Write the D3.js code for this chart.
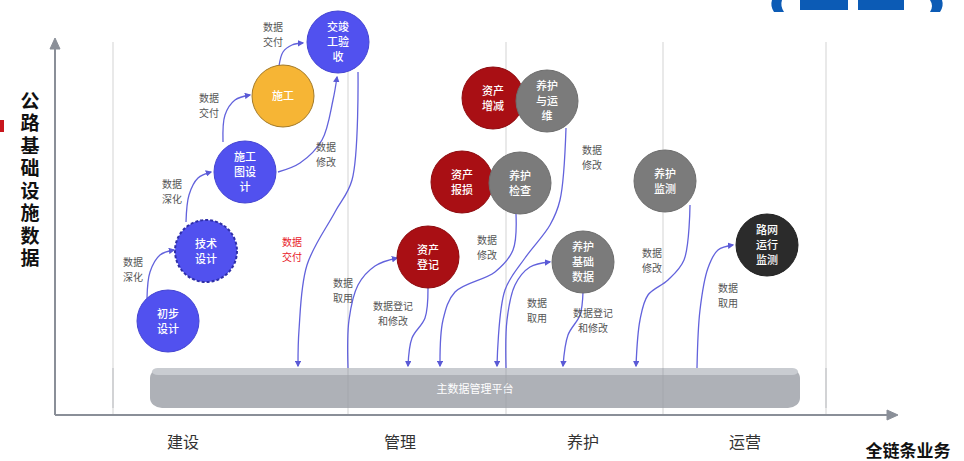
<!DOCTYPE html>
<html><head><meta charset="utf-8">
<script src="https://cdn.jsdelivr.net/npm/d3@7"></script>
<style>body{margin:0;background:#fff}svg{display:block}text{font-family:"Noto Sans CJK SC","Noto Sans",sans-serif}</style>
</head><body>
<svg id="c" width="964" height="461"></svg>
<script>
// ---- data (abstract units: x = business stage position, y = data level) ----
const stages = ["建设", "管理", "养护", "运营"];
const stagePos = [128, 345, 528, 690];
const dividers = [58, 293, 451, 608, 771];
const yTitle = "公路基础设施数据";
const xTitle = "全链条业务";
const platformName = "主数据管理平台";

const nodeNames = ["初步/设计", "技术/设计", "施工/图设/计", "施工", "交竣/工验/收",
  "资产/增减", "资产/报损", "资产/登记",
  "养护/与运/维", "养护/检查", "养护/基础/数据", "养护/监测", "路网/运行/监测"];
const nodeKind = ["build", "buildDash", "build", "construct", "build",
  "asset", "asset", "asset", "maint", "maint", "maint", "maint", "ops"];
const nodeX = [113, 151, 190, 228, 283, 438, 407, 373, 492, 465, 528, 610, 712];
const nodeY = [94, 164, 243, 319, 373, 317, 233, 158, 314, 232, 153, 234, 170];

const linkLabels = ["数据/深化", "数据/深化", "数据/交付", "数据/交付", "数据/修改", "数据/交付",
  "数据/取用", "数据登记/和修改", "数据/修改", "数据/修改", "数据/取用", "数据登记/和修改", "数据/修改", "数据/取用"];
const linkLabelX = [78, 117, 154, 218, 271, 237, 288, 338, 432, 537, 482, 538, 597, 673];
const linkLabelY = [153, 231, 317, 388, 268, 173, 132, 109, 175, 265, 112, 102, 162, 127];
const linkPaths = [
  [[92,117],[95,143],[105,160],[119,165]],
  [[131,193],[134,220],[143,237],[156,243]],
  [[168,273],[170,300],[180,315],[195,320]],
  [[224,349],[228,363],[237,370],[248,372]],
  [[223,243],[245,252],[267,275],[278,315],[282,338]],
  [[303,343],[297,235],[280,203],[252,150],[244,85],[243,49]],
  [[293,47],[294,95],[303,130],[320,149],[342,157]],
  [[373,127],[370,97],[357,77],[353,49]],
  [[461,201],[458,165],[440,143],[400,123],[388,95],[385,49]],
  [[511,287],[505,215],[495,190],[470,157],[450,125],[442,49]],
  [[451,47],[452,95],[460,130],[475,148],[495,153]],
  [[528,123],[525,100],[513,80],[508,49]],
  [[635,210],[629,155],[613,135],[593,120],[585,95],[581,49]],
  [[642,47],[645,105],[653,147],[663,165],[678,170]]
];
const linkRed = [false,false,false,false,false,true,false,false,false,false,false,false,false,false];

// ---- styles ----
const kindFill = {build:"#5151ef", buildDash:"#5151ef", construct:"#f6b535", asset:"#a90f14", maint:"#7b7b7b", ops:"#2b2b2b"};
const kindStroke = {build:"#4545d2", buildDash:"#2f2fa8", construct:"#a27a2a", asset:"#8e0c10", maint:"#6e6e6e", ops:"#222"};

const svg = d3.select("#c");
const x = d3.scaleLinear().domain([0, 843]).range([55, 898]);
const y = d3.scaleLinear().domain([0, 377]).range([415, 38]);

// decorations: red mark + partial blue logo
svg.append("rect").attr("x",0).attr("y",120).attr("width",4).attr("height",12).attr("fill","#c8161d");
const logo = svg.append("g").attr("fill","#0c5bb5");
logo.append("path").attr("d","M772,0 Q770,6 774,12 L784,12 Q780,6 782,0 Z");
logo.append("rect").attr("x",800).attr("y",0).attr("width",48).attr("height",10);
logo.append("rect").attr("x",858).attr("y",0).attr("width",46).attr("height",10);
logo.append("path").attr("d","M930,0 Q934,6 930,12 L940,12 Q944,6 942,0 Z");

// divider lines
svg.selectAll("line.div").data(dividers).join("line")
  .attr("x1", d => x(d)).attr("x2", d => x(d)).attr("y1", y(373)).attr("y2", y(0))
  .attr("stroke", "#e2e2e2").attr("stroke-width", 1.5);

// platform
const px0 = x(95), px1 = x(745), pyT = y(47), pyB = y(7);
svg.append("rect").attr("x",px0).attr("y",pyT).attr("width",px1-px0).attr("height",pyB-pyT)
  .attr("rx",12).attr("ry",10).attr("fill","#aeb1b7");
svg.append("rect").attr("x",px0+2).attr("y",pyT).attr("width",px1-px0-4).attr("height",7)
  .attr("rx",6).attr("fill","#c9ccd1");
svg.append("text").attr("x",(px0+px1)/2).attr("y",(pyT+pyB)/2+5).attr("text-anchor","middle")
  .attr("fill","#fff").attr("font-size",11).text(platformName);
svg.selectAll("line.div2").data(dividers).join("line")
  .attr("x1", d => x(d)).attr("x2", d => x(d)).attr("y1", pyT).attr("y2", pyB)
  .attr("stroke", "#9ea1a7").attr("stroke-width", 1).attr("opacity",0.6);

// axes
const ax = svg.append("g").attr("stroke","#8a8f98").attr("fill","#8a8f98");
ax.append("line").attr("x1",x(0)).attr("y1",y(0)).attr("x2",x(0)).attr("y2",y(370)).attr("stroke-width",2);
ax.append("path").attr("d",`M${x(0)-5},${y(366)} L${x(0)},${y(377)} L${x(0)+5},${y(366)} Z`);
ax.append("line").attr("x1",x(0)).attr("y1",y(0)).attr("x2",x(835)).attr("y2",y(0)).attr("stroke-width",2);
ax.append("path").attr("d",`M${x(832)},${y(0)-5} L${x(843)},${y(0)} L${x(832)},${y(0)+5} Z`);

// stage labels
svg.selectAll("text.stage").data(stages).join("text")
  .attr("x",(d,i)=>x(stagePos[i])).attr("y",y(-33)).attr("text-anchor","middle")
  .attr("font-size",16).attr("fill","#333").text(d=>d);
svg.append("text").attr("x",908).attr("y",457).attr("text-anchor","middle")
  .attr("font-size",17).attr("font-weight","bold").attr("fill","#111").text(xTitle);
svg.append("text").attr("x",30).attr("y",91)
  .style("writing-mode","vertical-rl").style("letter-spacing","3.5px")
  .attr("font-size",19).attr("font-weight","bold").attr("fill","#111").text(yTitle);

// arrow markers
const defs = svg.append("defs");
defs.append("marker").attr("id","arr").attr("viewBox","0 0 10 10").attr("refX",8).attr("refY",5)
  .attr("markerWidth",5).attr("markerHeight",5).attr("orient","auto")
  .append("path").attr("d","M0,0 L10,5 L0,10 Z").attr("fill","#5a5ad6");

// links
const line = d3.line().x(d=>x(d[0])).y(d=>y(d[1])).curve(d3.curveCatmullRom.alpha(0.5));
svg.append("g").selectAll("path").data(linkPaths).join("path")
  .attr("d", line).attr("fill","none").attr("stroke","#6262dc").attr("stroke-width",1.3)
  .attr("marker-end","url(#arr)");

// link labels
const lg = svg.append("g").selectAll("text").data(linkLabels).join("text")
  .attr("text-anchor","middle").attr("font-size",10)
  .attr("fill",(d,i)=>linkRed[i] ? "#e8202a" : "#555");
lg.each(function(d,i){
  const t = d3.select(this);
  d.split("/").forEach((s,k)=>{
    t.append("tspan").attr("x",x(linkLabelX[i])).attr("y",y(linkLabelY[i])+4+k*15).text(s);
  });
});

// nodes (assets first so maintenance circles overlap them)
const order = d3.range(nodeNames.length).sort((a,b)=>(nodeKind[a]==="asset"?0:1)-(nodeKind[b]==="asset"?0:1));
const ng = svg.append("g").selectAll("g").data(order).join("g")
  .attr("transform", i => `translate(${x(nodeX[i])},${y(nodeY[i])})`);
ng.append("circle").attr("r",31)
  .attr("fill", i => kindFill[nodeKind[i]])
  .attr("stroke", i => kindStroke[nodeKind[i]])
  .attr("stroke-width", i => nodeKind[i]==="buildDash" ? 2 : 1)
  .attr("stroke-dasharray", i => nodeKind[i]==="buildDash" ? "3,2" : null);
ng.append("text").attr("text-anchor","middle").attr("fill","#fff").attr("font-size",11).attr("font-weight",500)
  .each(function(i){
    const parts = nodeNames[i].split("/");
    const t = d3.select(this);
    parts.forEach((s,k)=>{
      t.append("tspan").attr("x",0).attr("y",(k-(parts.length-1)/2)*15+4).text(s);
    });
  });
</script>
</body></html>
